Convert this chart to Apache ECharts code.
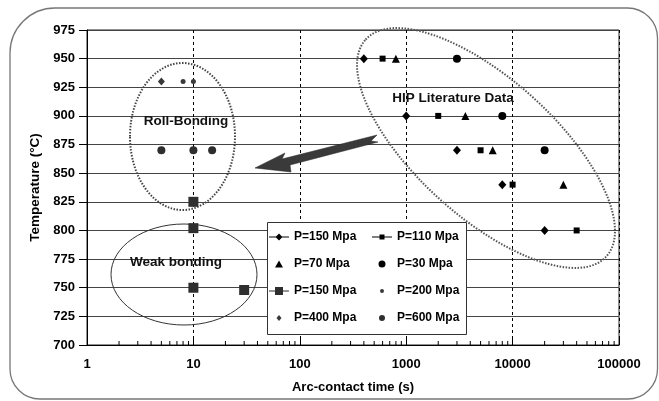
<!DOCTYPE html>
<html><head><meta charset="utf-8">
<script src="https://cdn.jsdelivr.net/npm/echarts@6/dist/echarts.min.js"></script>
<style>html,body{margin:0;padding:0;background:#fff}#c{width:659px;height:401px}</style>
</head><body><div id="c"></div>
<script>
// ---- data (Arc-contact time [s], Temperature [°C]) ----
const xTickLabels = ['1', '10', '100', '1000', '10000', '100000'];
const yTickLabels = ['700','725','750','775','800','825','850','875','900','925','950','975'];

const p150 = [[400, 950], [1000, 900], [3000, 870], [8000, 840], [20000, 800]];
const p110 = [[600, 950], [2000, 900], [5000, 870], [10000, 840], [40000, 800]];
const p70  = [[800, 950], [3600, 900], [6500, 870], [30000, 840]];
const p30  = [[3000, 950], [8000, 900], [20000, 870]];
const p150b = [[10, 825], [10, 802], [10, 750], [30, 748]];
const p200 = [[8, 930], [10, 930]];
const p400 = [[5, 930]];
const p600 = [[5, 870], [10, 870], [15, 870]];

const names = ['P=150 Mpa', 'P=110 Mpa', 'P=70 Mpa', 'P=30 Mpa', 'P=150 Mpa ', 'P=200 Mpa', 'P=400 Mpa', 'P=600 Mpa'];

// minor log ticks on the x axis (axis decoration only)
const minorTicks = [];
for (let d = 0; d < 5; d++) for (let k = 2; k <= 9; k++) minorTicks.push([k * Math.pow(10, d), 700]);

const FONT = '"Liberation Sans", Arial, sans-serif';

// legend icons: every icon path spans a 20px wide box so all texts line up
function pad(h) { return 'M0,' + (h / 2) + ' L0,' + (h / 2 + 0.01) + ' Z M20,' + (h / 2) + ' L20,' + (h / 2 + 0.01) + ' Z '; }
function circleIcon(r) {
  const h = 2 * r;
  return { h: h, icon: 'path://' + pad(h) + 'M' + (10 - r) + ',' + r + ' A' + r + ',' + r + ' 0 1 1 ' + (10 + r) + ',' + r +
    ' A' + r + ',' + r + ' 0 1 1 ' + (10 - r) + ',' + r + ' Z' };
}
function triIcon(w, h) {
  return { h: h, icon: 'path://' + pad(h) + 'M' + (10 - w / 2) + ',' + h + ' L10,0 L' + (10 + w / 2) + ',' + h + ' Z' };
}
function diamondIcon(w, h) {
  return { h: h, icon: 'path://' + pad(h) + 'M10,0 L' + (10 + w / 2) + ',' + (h / 2) + ' L10,' + h + ' L' + (10 - w / 2) + ',' + (h / 2) + ' Z' };
}
const lineDiamond = { h: 7, icon: 'path://M0,3 L7,3 L10,0 L13,3 L20,3 L20,4 L13,4 L10,7 L7,4 L0,4 Z' };
const lineSquareS = { h: 5, icon: 'path://M0,2 L7.5,2 L7.5,0 L12.5,0 L12.5,2 L20,2 L20,3 L12.5,3 L12.5,5 L7.5,5 L7.5,3 L0,3 Z' };
const lineSquareB = { h: 8, icon: 'path://M0,3.5 L6,3.5 L6,0 L14,0 L14,3.5 L20,3.5 L20,4.5 L14,4.5 L14,8 L6,8 L6,4.5 L0,4.5 Z' };

function leg(name, ic, left, rowCenter) {
  return {
    data: [{ name: name, icon: ic.icon }],
    left: left, top: rowCenter - 6,
    itemWidth: 20, itemHeight: ic.h, itemGap: 0, padding: 0,
    selectedMode: false, symbolKeepAspect: true,
    textStyle: { fontFamily: FONT, fontWeight: 'bold', fontSize: 12, color: '#000' }
  };
}
const c1 = 269, c2 = 372, rows = [237, 264, 291, 318];

const chart = echarts.init(document.getElementById('c'));
chart.setOption({
  animation: false,
  backgroundColor: '#fff',
  grid: { left: 87, right: 40, top: 30, bottom: 56, show: true, borderColor: '#222', borderWidth: 1, backgroundColor: 'transparent' },
  xAxis: {
    type: 'log', logBase: 10, min: 1, max: 100000,
    name: 'Arc-contact time (s)', nameLocation: 'middle', nameGap: 36,
    nameTextStyle: { fontFamily: FONT, fontWeight: 'bold', fontSize: 13, color: '#000' },
    axisLine: { lineStyle: { color: '#000', width: 1 } },
    axisTick: { inside: true, length: 6, lineStyle: { color: '#000' } },
    axisLabel: { fontFamily: FONT, fontWeight: 'bold', fontSize: 13, color: '#000', margin: 13,
      formatter: v => xTickLabels[Math.round(Math.log10(v))] },
    splitLine: { show: true, lineStyle: { color: '#000', type: [3, 3], width: 1 } }
  },
  yAxis: {
    type: 'value', min: 700, max: 975, interval: 25,
    name: 'Temperature (°C)', nameLocation: 'middle', nameGap: 41, nameRotate: 90,
    nameTextStyle: { fontFamily: FONT, fontWeight: 'bold', fontSize: 13.5, color: '#000' },
    axisLine: { show: true, lineStyle: { color: '#000', width: 1 } },
    axisTick: { show: true, inside: false, length: 8, lineStyle: { color: '#000' } },
    axisLabel: { fontFamily: FONT, fontWeight: 'bold', fontSize: 13, color: '#000', margin: 12,
      formatter: v => yTickLabels[Math.round((v - 700) / 25)] },
    splitLine: { show: true, lineStyle: { color: '#444', width: 1 } }
  },
  legend: [
    leg(names[0], lineDiamond, c1, rows[0]),
    leg(names[1], lineSquareS, c2, rows[0]),
    leg(names[2], triIcon(8, 7), c1, rows[1]),
    leg(names[3], circleIcon(3.5), c2, rows[1]),
    leg(names[4], lineSquareB, c1, rows[2]),
    leg(names[5], circleIcon(2), c2, rows[2]),
    leg(names[6], diamondIcon(5, 6), c1, rows[3]),
    leg(names[7], circleIcon(3), c2, rows[3])
  ],
  series: [
    { name: names[0], type: 'scatter', data: p150, symbol: 'diamond', symbolSize: [8, 9], itemStyle: { color: '#000', opacity: 1 } },
    { name: names[1], type: 'scatter', data: p110, symbol: 'rect', symbolSize: 6, itemStyle: { color: '#000', opacity: 1 } },
    { name: names[2], type: 'scatter', data: p70, symbol: 'triangle', symbolSize: 8, itemStyle: { color: '#000', opacity: 1 } },
    { name: names[3], type: 'scatter', data: p30, symbol: 'circle', symbolSize: 8, itemStyle: { color: '#000', opacity: 1 } },
    { name: names[4], type: 'scatter', data: p150b, symbol: 'rect', symbolSize: 10, itemStyle: { color: '#2e2e2e', opacity: 1 } },
    { name: names[5], type: 'scatter', data: p200, symbol: 'circle', symbolSize: 5, itemStyle: { color: '#3a3a3a', opacity: 1 } },
    { name: names[6], type: 'scatter', data: p400, symbol: 'diamond', symbolSize: [7, 8], itemStyle: { color: '#3a3a3a', opacity: 1 } },
    { name: names[7], type: 'scatter', data: p600, symbol: 'circle', symbolSize: 8, itemStyle: { color: '#2e2e2e', opacity: 1 } },
    { name: 'minorTicks', type: 'scatter', data: minorTicks, symbol: 'rect', symbolSize: [1, 4], symbolOffset: [0, -2],
      itemStyle: { color: '#000', opacity: 1 }, silent: true, clip: false, z: 3 }
  ],
  graphic: [
    { type: 'rect', z: 0, silent: true, shape: { x: 10, y: 8, width: 647.5, height: 391, r: [45, 30, 30, 30] },
      style: { fill: 'none', stroke: '#777', lineWidth: 1.3 } },
    { type: 'ellipse', z: 1, silent: true, shape: { cx: 182.5, cy: 136.5, rx: 52.5, ry: 73.5 },
      style: { fill: 'none', stroke: '#444', lineWidth: 2, lineDash: [1.5, 1.5] } },
    { type: 'ellipse', z: 1, silent: true, shape: { cx: 184, cy: 274.5, rx: 73, ry: 50.5 },
      style: { fill: 'none', stroke: '#333', lineWidth: 1 } },
    { type: 'ellipse', z: 1, silent: true, x: 486, y: 148, rotation: -0.733, shape: { cx: 0, cy: 0, rx: 162, ry: 69 },
      style: { fill: 'none', stroke: '#555', lineWidth: 2, lineDash: [1.5, 1.5] } },
    { type: 'polygon', z: 2, silent: true,
      shape: { points: [[255, 168], [285, 153], [282, 159], [377, 135], [371, 141], [378, 142], [290, 165], [291, 172]] },
      style: { fill: '#3a3a3a', stroke: '#222', lineWidth: 0.5 } },
    { type: 'text', z: 6, silent: true, x: 186, y: 121,
      style: { text: 'Roll-Bonding', font: 'bold 13.5px ' + FONT, fill: '#111', align: 'center', verticalAlign: 'middle' } },
    { type: 'text', z: 6, silent: true, x: 176, y: 262,
      style: { text: 'Weak bonding', font: 'bold 13.5px ' + FONT, fill: '#111', align: 'center', verticalAlign: 'middle' } },
    { type: 'text', z: 6, silent: true, x: 453, y: 98,
      style: { text: 'HIP Literature Data', font: 'bold 13.5px ' + FONT, fill: '#111', align: 'center', verticalAlign: 'middle' } },
    { type: 'rect', z: 3, silent: true, shape: { x: 267.5, y: 222.5, width: 199, height: 112 },
      style: { fill: '#fff', stroke: '#333', lineWidth: 1 } }
  ]
});
</script>
</body></html>
